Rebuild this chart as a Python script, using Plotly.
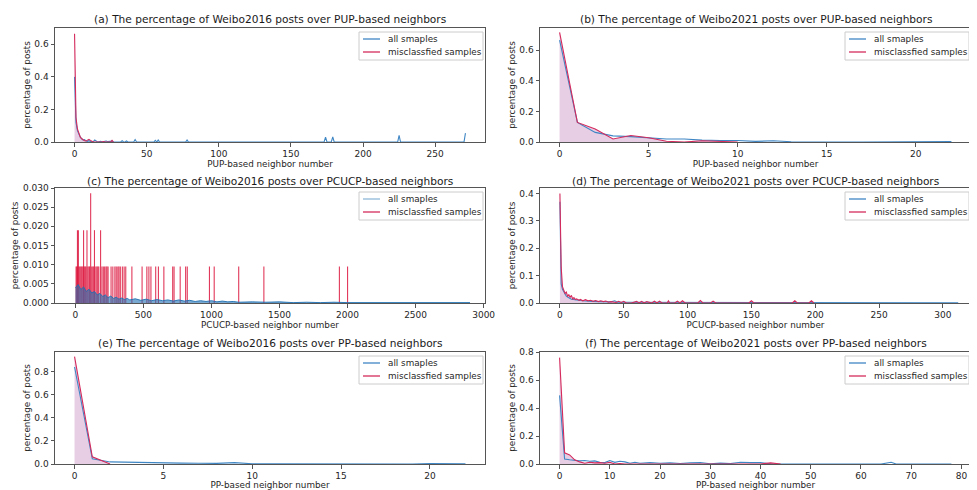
import plotly.graph_objects as go

# (a) Weibo2016, PUP-based neighbors
a_all_x = [0, 1, 2, 3, 4, 5, 6, 7, 8, 9, 10, 11, 12, 13, 14, 15, 16,
           18, 20, 21, 22, 23, 24, 26, 27, 32, 33, 34, 35, 36, 37, 41, 42, 43,
           55, 56, 57, 58, 59, 77, 78, 79, 173, 174, 175, 178, 179, 180,
           224, 225, 226, 270, 271]
a_all_y = [0.40, 0.12, 0.07, 0.045, 0.03, 0.02, 0.012, 0.015, 0.006, 0.004, 0.008, 0.003, 0.004, 0.002, 0.012, 0.004, 0.0,
           0.004, 0.0, 0.004, 0.006, 0.002, 0.004, 0.005, 0.0, 0.0, 0.008, 0.0, 0.0, 0.006, 0.0, 0.0, 0.015, 0.0,
           0.0, 0.01, 0.0, 0.012, 0.0, 0.0, 0.012, 0.0, 0.0, 0.03, 0.0, 0.0, 0.032, 0.0,
           0.0, 0.04, 0.0, 0.0, 0.055]
a_mis_x = [0, 1, 2, 3, 4, 5, 6, 7, 8, 9, 10, 11, 12, 13, 19, 20, 21, 25, 26, 27]
a_mis_y = [0.665, 0.15, 0.08, 0.05, 0.03, 0.02, 0.012, 0.008, 0.006, 0.01, 0.016, 0.01, 0.004, 0.0, 0.0, 0.003, 0.0, 0.0, 0.01, 0.0]

# (b) Weibo2021, PUP-based neighbors
b_all_x = list(range(23))
b_all_y = [0.665, 0.128, 0.063, 0.04, 0.035, 0.028, 0.02, 0.02, 0.012, 0.01, 0.01, 0.004, 0.008, 0.002,
           0.0, 0.0, 0.0, 0.0, 0.0, 0.0, 0.0, 0.003, 0.003]
b_mis_x = list(range(11))
b_mis_y = [0.716, 0.128, 0.085, 0.02, 0.042, 0.028, 0.005, 0.0, 0.008, 0.005, 0.0]

# (c) Weibo2016, PCUCP-based neighbors
c_all_x = [0, 20, 40, 60, 80, 100, 120, 140, 160, 180, 200, 220, 240, 260, 280, 300, 320, 340, 360, 380, 400,
           440, 480, 520, 560, 600, 640, 680, 720, 760, 800, 840, 880, 920, 960, 1000, 1040, 1080, 1120, 1160, 1200,
           1300, 1400, 1500, 1600, 1700, 1800, 1900, 2000, 2100, 2200, 2300, 2400, 2500, 2600, 2700, 2800, 2900]
c_all_y = [0.0040, 0.0048, 0.0035, 0.0042, 0.0030, 0.0036, 0.0026, 0.0030, 0.0021, 0.0025, 0.0017, 0.0021, 0.0014, 0.0018, 0.0012, 0.0015, 0.0010, 0.0013, 0.0009, 0.0012, 0.0008,
           0.0011, 0.0007, 0.0010, 0.0006, 0.0009, 0.0006, 0.0008, 0.0005, 0.0008, 0.0005, 0.0007, 0.0004, 0.0006, 0.0004, 0.0006, 0.0003, 0.0005, 0.0003, 0.0004, 0.0002,
           0.0003, 0.0002, 0.0003, 0.0001, 0.0002, 0.0001, 0.0002, 0.0001, 0.0001, 0.0001, 0.0001, 0.0001, 0.0001, 0.0001, 0.0001, 0.0001, 0.0001]
c_mis_x = [5, 10, 15, 18, 22, 28, 35, 42, 48, 55, 60, 65, 72, 78, 85, 92, 100, 105, 112, 120, 128, 135, 140, 150,
           158, 165, 172, 185, 195, 205, 215, 225, 232, 240, 262, 275, 290, 300, 312, 320, 330, 345, 358, 370,
           415, 490, 525, 540, 555, 590, 610, 650, 715, 725, 770, 810, 822, 985, 1020, 1200, 1385, 1940, 2000]
c_mis_y = [0.0095, 0.0095, 0.019, 0.0095, 0.019, 0.0095, 0.0095, 0.0095, 0.0095, 0.0095, 0.019, 0.0095, 0.0095, 0.0095, 0.019, 0.0095, 0.0095, 0.0095, 0.0286, 0.0095, 0.0095, 0.0095, 0.019, 0.0095,
           0.0095, 0.0095, 0.0095, 0.019, 0.0095, 0.0095, 0.0095, 0.0095, 0.0095, 0.0095, 0.0095, 0.0095, 0.0095, 0.0095, 0.0095, 0.0095, 0.0095, 0.0095, 0.0095, 0.0095,
           0.0095, 0.0095, 0.0095, 0.0095, 0.0095, 0.0095, 0.0095, 0.0095, 0.0095, 0.0095, 0.0095, 0.0095, 0.0095, 0.0095, 0.0095, 0.0095, 0.0095, 0.0095, 0.0095]

# (d) Weibo2021, PCUCP-based neighbors
d_all_x = [0, 1, 2, 3, 4, 5, 6, 7, 8, 9, 10, 12, 14, 16, 18, 20, 25, 30, 35, 40, 43, 45, 50, 60, 70, 80, 90,
           100, 110, 120, 130, 150, 200, 250, 312]
d_all_y = [0.37, 0.07, 0.05, 0.04, 0.03, 0.025, 0.022, 0.018, 0.016, 0.014, 0.013, 0.011, 0.01, 0.009, 0.008, 0.007, 0.006, 0.005, 0.004, 0.004, 0.008, 0.003, 0.003, 0.003, 0.002, 0.002, 0.002,
           0.0015, 0.001, 0.001, 0.001, 0.0005, 0.0003, 0.0003, 0.0003]
d_mis_x = [0, 1, 2, 3, 4, 5, 6, 7, 8, 9, 10, 11, 12, 13, 14, 15, 16, 18, 20, 22, 24, 26, 28, 30, 32, 34, 36, 38, 40,
           44, 46, 48, 50, 52, 56, 60, 62, 64, 66, 68, 72, 74, 76, 78, 80, 84, 85, 86, 90, 92, 94, 96, 98,
           108, 110, 112, 118, 120, 122, 148, 150, 152, 182, 184, 186, 195, 197, 199]
d_mis_y = [0.40, 0.13, 0.06, 0.045, 0.035, 0.04, 0.025, 0.03, 0.02, 0.028, 0.015, 0.02, 0.013, 0.015, 0.012, 0.01, 0.013, 0.008, 0.012, 0.008, 0.01, 0.006, 0.009, 0.005, 0.008, 0.005, 0.007, 0.003, 0.005,
           0.002, 0.006, 0.002, 0.006, 0.0, 0.0, 0.006, 0.0, 0.006, 0.0, 0.005, 0.0, 0.007, 0.0, 0.007, 0.0, 0.0, 0.008, 0.0, 0.0, 0.007, 0.0, 0.008, 0.0,
           0.0, 0.009, 0.0, 0.0, 0.007, 0.0, 0.0, 0.008, 0.0, 0.0, 0.008, 0.0, 0.0, 0.008, 0.0]

# (e) Weibo2016, PP-based neighbors
e_all_x = list(range(23))
e_all_y = [0.84, 0.045, 0.018, 0.015, 0.012, 0.005, 0.008, 0.006, 0.005, 0.012, 0.002, 0.002, 0.001,
           0.0, 0.0, 0.0, 0.0, 0.0, 0.0, 0.0, 0.003, 0.0, 0.002]
e_mis_x = [0, 1, 2]
e_mis_y = [0.93, 0.062, 0.0]

# (f) Weibo2021, PP-based neighbors
f_all_x = [0, 1, 2, 3, 4, 5, 6, 7, 8, 9, 10, 11, 12, 13, 14, 15, 16, 18, 20, 22, 24, 26, 28, 30, 32, 34, 36, 38, 40,
           42, 44, 46, 50, 54, 60, 64, 66, 67, 70, 78]
f_all_y = [0.49, 0.035, 0.03, 0.025, 0.022, 0.025, 0.02, 0.022, 0.012, 0.01, 0.025, 0.012, 0.02, 0.015, 0.005, 0.012, 0.005, 0.01, 0.005, 0.008, 0.004, 0.008, 0.01, 0.002, 0.006, 0.003, 0.012, 0.01, 0.01,
           0.002, 0.003, 0.0, 0.0, 0.0, 0.0, 0.0, 0.012, 0.0, 0.0, 0.0]
f_mis_x = [0, 1, 2, 3, 4, 5, 6, 7, 8, 9, 10, 11, 12, 13, 20, 40, 42, 44]
f_mis_y = [0.76, 0.08, 0.065, 0.03, 0.015, 0.005, 0.012, 0.008, 0.01, 0.005, 0.012, 0.0, 0.004, 0.0, 0.0, 0.0, 0.008, 0.0]

titles = [
    "(a) The percentage of Weibo2016 posts over PUP-based neighbors",
    "(b) The percentage of Weibo2021 posts over PUP-based neighbors",
    "(c) The percentage of Weibo2016 posts over PCUCP-based neighbors",
    "(d) The percentage of Weibo2021 posts over PCUCP-based neighbors",
    "(e) The percentage of Weibo2016 posts over PP-based neighbors",
    "(f) The percentage of Weibo2021 posts over PP-based neighbors",
]
xlabels = ["PUP-based neighbor number", "PUP-based neighbor number",
           "PCUCP-based neighbor number", "PCUCP-based neighbor number",
           "PP-based neighbor number", "PP-based neighbor number"]
legend_labels = ["all smaples", "misclassfied samples"]

BLUE = "#3f86c4"
RED = "#d42a5c"
FILL = "rgba(196,132,188,0.4)"
FONT = "DejaVu Sans"

# the page body has an 8px margin, so the figure is shifted by it
OFF = 8
W, H = 977 - OFF, 490 - OFF

# pixel boxes of the axes in the screenshot: (left, right) per column, (top, bottom) per row
cols = [(55, 485), (540, 971)]
rows = [(28, 142), (188, 303), (352, 464)]
title_gap = [9, 7, 9]

xranges = [[-13.55, 284.55], [-1.1, 23.1], [-150, 3010], [-15.6, 322], [-1.1, 23.1], [-3.9, 81.9]]
yranges = [[0, 0.70], [0, 0.745], [0, 0.030], [0, 0.42], [0, 0.97], [0, 0.80]]
xdticks = [50, 5, 500, 50, 5, 10]
ydticks = [0.2, 0.2, 0.005, 0.1, 0.2, 0.2]
yformats = [".1f", ".1f", ".3f", ".1f", ".1f", ".1f"]

fig = go.Figure()


def px(x):
    return (x - OFF) / W


def py(y):
    return 1 - (y - OFF) / H


def axis_names(n):
    return ("x", "y") if n == 1 else ("x%d" % n, "y%d" % n)


def add_lines(n, all_x, all_y, mis_x, mis_y):
    xa, ya = axis_names(n)
    fig.add_trace(go.Scatter(x=mis_x, y=mis_y, mode="lines", line=dict(width=0),
                             fill="tozeroy", fillcolor=FILL, hoverinfo="skip", xaxis=xa, yaxis=ya))
    fig.add_trace(go.Scatter(x=all_x, y=all_y, mode="lines", name=legend_labels[0],
                             line=dict(color=BLUE, width=1.1), xaxis=xa, yaxis=ya))
    fig.add_trace(go.Scatter(x=mis_x, y=mis_y, mode="lines", name=legend_labels[1],
                             line=dict(color=RED, width=1.1), xaxis=xa, yaxis=ya))


add_lines(1, a_all_x, a_all_y, a_mis_x, a_mis_y)
add_lines(2, b_all_x, b_all_y, b_mis_x, b_mis_y)

# (c) the misclassified samples are drawn as spikes
fig.add_trace(go.Scatter(x=c_all_x, y=c_all_y, mode="lines", name=legend_labels[0],
                         line=dict(color="#1f6fb2", width=0.9), fill="tozeroy",
                         fillcolor="rgba(31,111,178,0.6)", xaxis="x3", yaxis="y3"))
fig.add_trace(go.Bar(x=c_mis_x, y=c_mis_y, width=8, name=legend_labels[1],
                     marker=dict(color="rgba(220,20,60,0.85)", line=dict(width=0)),
                     xaxis="x3", yaxis="y3"))

add_lines(4, d_all_x, d_all_y, d_mis_x, d_mis_y)
add_lines(5, e_all_x, e_all_y, e_mis_x, e_mis_y)
add_lines(6, f_all_x, f_all_y, f_mis_x, f_mis_y)

layout = dict(width=W, height=H, margin=dict(l=0, r=0, t=0, b=0), showlegend=False,
              paper_bgcolor="white", plot_bgcolor="white",
              font=dict(family=FONT, size=9, color="#262626"), annotations=[], shapes=[])

for i in range(6):
    n = i + 1
    left, right = cols[i % 2]
    top, bottom = rows[i // 2]
    xa, ya = axis_names(n)
    xkey = "xaxis" if n == 1 else "xaxis%d" % n
    ykey = "yaxis" if n == 1 else "yaxis%d" % n
    line_style = dict(showline=True, mirror=True, linecolor="#555", linewidth=1,
                      ticks="outside", ticklen=3.5, tickcolor="#555", automargin=False,
                      showgrid=False, zeroline=False, tickfont=dict(size=9, color="#262626"))
    layout[xkey] = dict(domain=[px(left), min(px(right), 1.0)], anchor=ya, range=xranges[i],
                        dtick=xdticks[i], tick0=0,
                        title=dict(text=xlabels[i], font=dict(size=8.8), standoff=0),
                        **line_style)
    layout[ykey] = dict(domain=[py(bottom), py(top)], anchor=xa, range=yranges[i],
                        dtick=ydticks[i], tick0=0, tickformat=yformats[i],
                        title=dict(text="percentage of posts", font=dict(size=8.8), standoff=2),
                        **line_style)
    layout["annotations"].append(dict(text=titles[i], x=px((left + right) / 2), y=py(top - title_gap[i // 2]),
                                      xref="paper", yref="paper", showarrow=False,
                                      xanchor="center", yanchor="middle",
                                      font=dict(size=10.6, color="#1a1a1a")))

    # legend box in the upper right corner of each panel
    bx1 = right - 2
    bx0 = bx1 - 124
    by0 = top + 4
    layout["shapes"].append(dict(type="rect", xref="paper", yref="paper",
                                 x0=px(bx0), x1=px(bx1), y0=py(by0), y1=py(by0 + 28),
                                 line=dict(color="#cccccc", width=1),
                                 fillcolor="rgba(255,255,255,0.8)", layer="above"))
    sample_colors = [BLUE, RED] if n != 3 else ["#8fb7d9", RED]
    for k in range(2):
        yy = by0 + 7 + 13 * k
        layout["shapes"].append(dict(type="line", xref="paper", yref="paper",
                                     x0=px(bx0 + 4), x1=px(bx0 + 21), y0=py(yy), y1=py(yy),
                                     line=dict(color=sample_colors[k], width=1.3), layer="above"))
        layout["annotations"].append(dict(text=legend_labels[k], x=px(bx0 + 27), y=py(yy),
                                          xref="paper", yref="paper", showarrow=False,
                                          xanchor="left", yanchor="middle",
                                          font=dict(size=8.8, color="#262626")))

fig.update_layout(**layout)
fig.write_html("out.html")
